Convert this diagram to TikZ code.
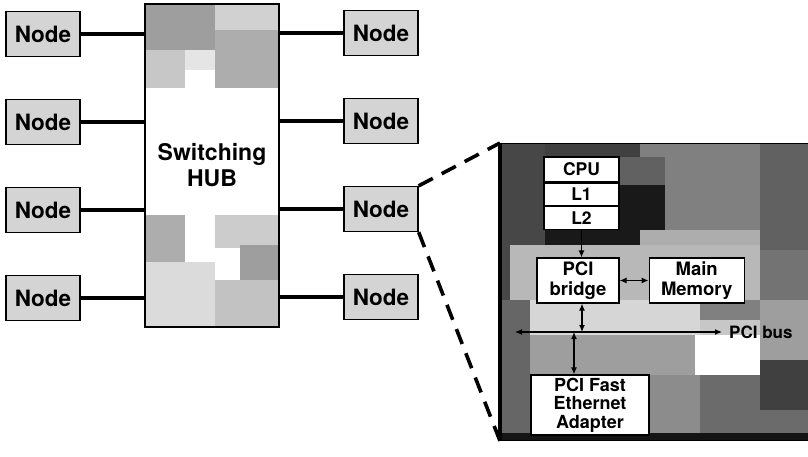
\documentclass[tikz,border=0pt]{standalone}
\usepackage{fontspec}
\setmainfont{TeX Gyre Heros}
\usetikzlibrary{positioning,arrows.meta}

\begin{document}
\begin{tikzpicture}[x=1pt,y=-1pt,
  nodebox/.style={draw,line width=1.3pt,fill=black!17,minimum width=74pt,minimum height=45pt,inner sep=0pt,font=\fontsize{22.5}{24}\selectfont\bfseries},
  wire/.style={line width=3.2pt},
  zoomline/.style={line width=3.6pt,dash pattern=on 16pt off 10pt},
  whitebox/.style={draw,line width=1.2pt,fill=white,inner sep=0pt,align=center,font=\fontsize{17.5}{19}\selectfont\bfseries},
  link/.style={line width=1.2pt,{Latex[length=7pt,width=6pt]}-{Latex[length=7pt,width=6pt]}},
  onelink/.style={line width=1.2pt,-{Latex[length=7pt,width=6pt]}}
]
\useasboundingbox (0,0) rectangle (808,457);

% Hub texture
\foreach \xa/\ya/\xb/\yb/\sh in {145/4/215/50/38, 215/4/279/30/18, 215/30/279/88/32, 145/50/185/88/22,
  185/50/215/70/10, 145/215/185/262/32, 215/215/279/248/20, 240/245/279/280/38,
  145/262/215/327/14, 215/280/279/327/24}
  \fill[black!\sh] (\xa,\ya) rectangle (\xb,\yb);

\node[draw,line width=1.8pt,minimum width=134pt,minimum height=323pt,inner sep=0pt,align=center,
  font=\fontsize{23}{26}\selectfont\bfseries] (hub) at (212,165.5) {Switching\\HUB};

% Nodes left / right
\foreach \i/\y in {1/34,2/122,3/210,4/298} {
  \node[nodebox] (nL\i) at (43,\y) {Node};
  \draw[wire] (nL\i) -- (nL\i -| hub.west);
}
\foreach \i/\y in {1/33,2/121,3/209,4/297} {
  \node[nodebox] (nR\i) at (381,\y) {Node};
  \draw[wire] (nR\i -| hub.east) -- (nR\i);
}

% Zoomed panel
\fill[black!50] (500,143) rectangle (808,440);
\foreach \xa/\ya/\xb/\yb/\sh in {500/143/545/300/72, 545/143/640/157/75, 620/157/665/185/62,
  620/185/665/232/90, 545/227/640/245/90, 665/143/760/230/50, 760/143/808/250/62,
  640/230/760/250/32, 510/245/760/300/28, 760/250/808/300/55, 760/300/808/360/38,
  530/300/700/335/16, 700/320/760/335/22, 695/335/760/375/0, 500/300/530/440/60,
  530/335/695/375/38, 530/375/700/433/45, 700/375/760/433/58, 760/360/808/410/75,
  760/410/808/433/58, 500/433/808/440/92}
  \fill[black!\sh] (\xa,\ya) rectangle (\xb,\yb);
\node[draw,line width=1pt,minimum width=320pt,minimum height=297pt,anchor=north west,inner sep=0pt] (panel) at (500,143) {};
\draw[line width=3.5pt] (panel.north west) -- (panel.south west);

\draw[zoomline] (nR3.north east) -- (panel.north west);
\draw[zoomline] (nR3.south east) -- (panel.south west);

% CPU stack
\node[whitebox,minimum width=75pt,minimum height=25pt] (cpu) at (581.5,169.5) {CPU};
\node[whitebox,minimum width=75pt,minimum height=22pt,below=0pt of cpu] (l1) {L1};
\node[whitebox,minimum width=75pt,minimum height=23pt,below=0pt of l1] (l2) {L2};

\node[whitebox,minimum width=82pt,minimum height=45pt,font=\fontsize{18.5}{20}\selectfont\bfseries] (bridge) at (578,280.5) {PCI\\bridge};
\node[whitebox,minimum width=95pt,minimum height=45pt,font=\fontsize{18.5}{20}\selectfont\bfseries,right=29pt of bridge] (memory) {Main\\Memory};
\node[whitebox,minimum width=118pt,minimum height=60pt,font=\fontsize{18}{18.5}\selectfont\bfseries] (adapter) at (590,405) {PCI Fast\\Ethernet\\Adapter};

\coordinate (busL) at (515,332);
\coordinate (busR) at (722,332);
\coordinate (busA) at (582,332);
\coordinate (busB) at (574,332);
\node[anchor=west,inner sep=0pt,font=\fontsize{17}{18}\selectfont\bfseries] (buslabel) at (729,332) {PCI bus};

\draw[onelink] (l2.south) -- (l2.south |- bridge.north);
\draw[link] (bridge) -- (memory);
\draw[link] (busA |- bridge.south) -- (busA);
\draw[link] (busL) -- (busR);
\draw[link] (busB) -- (busB |- adapter.north);

\end{tikzpicture}
\end{document}
